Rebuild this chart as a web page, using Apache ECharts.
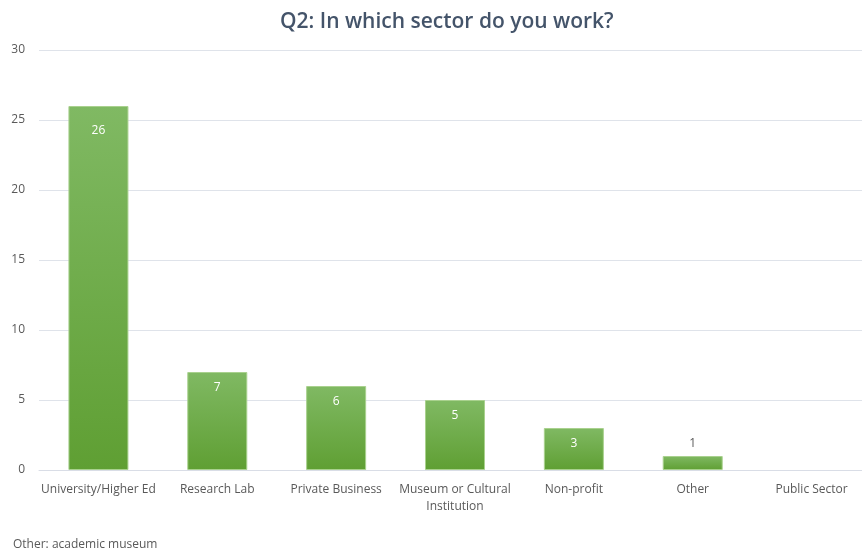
<!DOCTYPE html>
<html>
<head>
<meta charset="utf-8">
<script src="https://cdn.jsdelivr.net/npm/echarts@6/dist/echarts.min.js"></script>
<style>
  html, body { margin: 0; padding: 0; background: #fff; overflow: hidden; }
  #chart { width: 871px; height: 557px; }
</style>
</head>
<body>
<div id="chart"></div>
<script>
// Survey responses by sector
const sectors = ['University/Higher Ed', 'Research Lab', 'Private Business', 'Museum or Cultural\nInstitution', 'Non-profit', 'Other', 'Public Sector'];
const counts = [26, 7, 6, 5, 3, 1, 0];
const yTicks = [0, 5, 10, 15, 20, 25, 30];

const textFont = '"Open Sans", "Liberation Sans", sans-serif';

const barColor = new echarts.graphic.LinearGradient(0, 0, 0, 1, [
  { offset: 0, color: '#80b963' },
  { offset: 1, color: '#5f9f33' }
]);

// Small bars get their value above the bar, taller ones inside near the top
const barData = counts.map(v => {
  const item = { value: v };
  if (v === 0) {
    item.label = { show: false };
    item.itemStyle = { borderWidth: 0 };
  } else if (v < 2) {
    item.label = { position: 'top', color: '#595959', distance: 6 };
  } else if (v > 20) {
    item.label = { distance: 19 };
  }
  return item;
});

const chart = echarts.init(document.getElementById('chart'));
chart.setOption({
  backgroundColor: '#ffffff',
  animation: false,
  title: {
    text: 'Q2: In which sector do you work?',
    left: 275,
    top: 7,
    textStyle: { fontFamily: textFont, fontSize: 21, fontWeight: 600, color: '#44546a' }
  },
  graphic: [{
    type: 'text',
    left: 13,
    top: 539,
    style: { text: 'Other: academic museum', font: '12px ' + textFont, fill: '#595959' }
  }],
  grid: { left: 39, top: 50, right: 0, height: 420, containLabel: false },
  xAxis: {
    type: 'category',
    data: sectors,
    axisLine: { show: true, lineStyle: { color: '#d9dde6', width: 1 } },
    axisTick: { show: false },
    axisLabel: { color: '#595959', fontFamily: textFont, fontSize: 12, margin: 11, lineHeight: 17, interval: 0 }
  },
  yAxis: {
    type: 'value',
    min: yTicks[0],
    max: yTicks[yTicks.length - 1],
    interval: yTicks[1] - yTicks[0],
    axisLine: { show: false },
    axisTick: { show: false },
    splitLine: { lineStyle: { color: '#dfe3ea', width: 1 } },
    axisLabel: { color: '#595959', fontFamily: textFont, fontSize: 12, margin: 14 }
  },
  series: [{
    type: 'bar',
    data: barData,
    barWidth: 60,
    itemStyle: { color: barColor, borderColor: '#a9d18e', borderWidth: 1 },
    label: {
      show: true,
      position: 'insideTop',
      distance: 10,
      color: '#ffffff',
      fontFamily: textFont,
      fontSize: 12
    }
  }]
});
</script>
</body>
</html>
